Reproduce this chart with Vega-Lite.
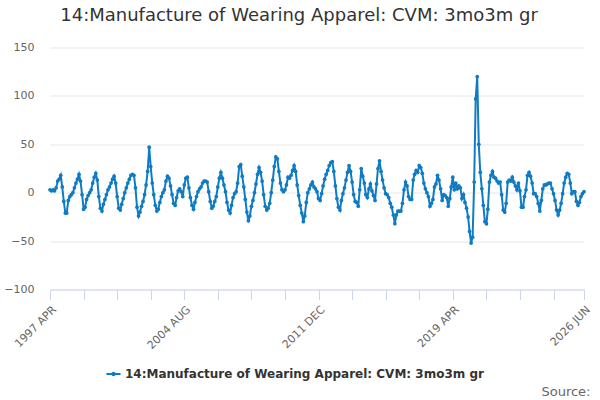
{
"$schema": "https://vega.github.io/schema/vega-lite/v6.json",
"width": 534, "height": 242,
"autosize": "none",
"padding": {"left": 50, "top": 47.5, "right": 16, "bottom": 110.5},
"background": "white",
"title": {"text": "14:Manufacture of Wearing Apparel: CVM: 3mo3m gr", "font": "DejaVu Sans", "fontSize": 18, "fontWeight": "normal", "color": "#333333", "anchor": "middle", "offset": 17, "dx": -18},
"data": {"values": [
{"date":"1997-04-01","value":3},{"date":"1997-05-01","value":2},{"date":"1997-06-01","value":3},{"date":"1997-07-01","value":2},{"date":"1997-08-01","value":5},{"date":"1997-09-01","value":12},{"date":"1997-10-01","value":14},{"date":"1997-11-01","value":18},{"date":"1997-12-01","value":6},
{"date":"1998-01-01","value":-9},{"date":"1998-02-01","value":-21},{"date":"1998-03-01","value":-21},{"date":"1998-04-01","value":-8},{"date":"1998-05-01","value":-4},{"date":"1998-06-01","value":-2},{"date":"1998-07-01","value":0},{"date":"1998-08-01","value":5},{"date":"1998-09-01","value":10},{"date":"1998-10-01","value":14},{"date":"1998-11-01","value":19},{"date":"1998-12-01","value":12},
{"date":"1999-01-01","value":-2},{"date":"1999-02-01","value":-17},{"date":"1999-03-01","value":-15},{"date":"1999-04-01","value":-7},{"date":"1999-05-01","value":-3},{"date":"1999-06-01","value":0},{"date":"1999-07-01","value":3},{"date":"1999-08-01","value":10},{"date":"1999-09-01","value":16},{"date":"1999-10-01","value":20},{"date":"1999-11-01","value":13},{"date":"1999-12-01","value":-4},
{"date":"2000-01-01","value":-16},{"date":"2000-02-01","value":-19},{"date":"2000-03-01","value":-12},{"date":"2000-04-01","value":-7},{"date":"2000-05-01","value":-2},{"date":"2000-06-01","value":3},{"date":"2000-07-01","value":6},{"date":"2000-08-01","value":10},{"date":"2000-09-01","value":14},{"date":"2000-10-01","value":17},{"date":"2000-11-01","value":10},{"date":"2000-12-01","value":-4},
{"date":"2001-01-01","value":-16},{"date":"2001-02-01","value":-18},{"date":"2001-03-01","value":-12},{"date":"2001-04-01","value":-6},{"date":"2001-05-01","value":0},{"date":"2001-06-01","value":5},{"date":"2001-07-01","value":10},{"date":"2001-08-01","value":14},{"date":"2001-09-01","value":18},{"date":"2001-10-01","value":19},{"date":"2001-11-01","value":18},{"date":"2001-12-01","value":5},
{"date":"2002-01-01","value":-15},{"date":"2002-02-01","value":-24},{"date":"2002-03-01","value":-20},{"date":"2002-04-01","value":-14},{"date":"2002-05-01","value":-9},{"date":"2002-06-01","value":-2},{"date":"2002-07-01","value":8},{"date":"2002-08-01","value":22},{"date":"2002-09-01","value":47},{"date":"2002-10-01","value":27},{"date":"2002-11-01","value":10},{"date":"2002-12-01","value":-2},
{"date":"2003-01-01","value":-13},{"date":"2003-02-01","value":-19},{"date":"2003-03-01","value":-17},{"date":"2003-04-01","value":-10},{"date":"2003-05-01","value":-4},{"date":"2003-06-01","value":0},{"date":"2003-07-01","value":3},{"date":"2003-08-01","value":12},{"date":"2003-09-01","value":17},{"date":"2003-10-01","value":15},{"date":"2003-11-01","value":7},{"date":"2003-12-01","value":-2},
{"date":"2004-01-01","value":-11},{"date":"2004-02-01","value":-13},{"date":"2004-03-01","value":-5},{"date":"2004-04-01","value":2},{"date":"2004-05-01","value":4},{"date":"2004-06-01","value":1},{"date":"2004-07-01","value":-4},{"date":"2004-08-01","value":8},{"date":"2004-09-01","value":15},{"date":"2004-10-01","value":16},{"date":"2004-11-01","value":5},{"date":"2004-12-01","value":-5},
{"date":"2005-01-01","value":-13},{"date":"2005-02-01","value":-17},{"date":"2005-03-01","value":-10},{"date":"2005-04-01","value":-4},{"date":"2005-05-01","value":1},{"date":"2005-06-01","value":4},{"date":"2005-07-01","value":6},{"date":"2005-08-01","value":10},{"date":"2005-09-01","value":12},{"date":"2005-10-01","value":12},{"date":"2005-11-01","value":11},{"date":"2005-12-01","value":1},
{"date":"2006-01-01","value":-9},{"date":"2006-02-01","value":-16},{"date":"2006-03-01","value":-14},{"date":"2006-04-01","value":-9},{"date":"2006-05-01","value":-4},{"date":"2006-06-01","value":6},{"date":"2006-07-01","value":15},{"date":"2006-08-01","value":21},{"date":"2006-09-01","value":15},{"date":"2006-10-01","value":8},{"date":"2006-11-01","value":1},{"date":"2006-12-01","value":-10},
{"date":"2007-01-01","value":-18},{"date":"2007-02-01","value":-21},{"date":"2007-03-01","value":-13},{"date":"2007-04-01","value":-5},{"date":"2007-05-01","value":-1},{"date":"2007-06-01","value":1},{"date":"2007-07-01","value":10},{"date":"2007-08-01","value":27},{"date":"2007-09-01","value":29},{"date":"2007-10-01","value":17},{"date":"2007-11-01","value":6},{"date":"2007-12-01","value":-7},
{"date":"2008-01-01","value":-20},{"date":"2008-02-01","value":-29},{"date":"2008-03-01","value":-24},{"date":"2008-04-01","value":-14},{"date":"2008-05-01","value":-8},{"date":"2008-06-01","value":0},{"date":"2008-07-01","value":9},{"date":"2008-08-01","value":19},{"date":"2008-09-01","value":26},{"date":"2008-10-01","value":21},{"date":"2008-11-01","value":12},{"date":"2008-12-01","value":-2},
{"date":"2009-01-01","value":-14},{"date":"2009-02-01","value":-18},{"date":"2009-03-01","value":-16},{"date":"2009-04-01","value":-11},{"date":"2009-05-01","value":0},{"date":"2009-06-01","value":13},{"date":"2009-07-01","value":27},{"date":"2009-08-01","value":37},{"date":"2009-09-01","value":35},{"date":"2009-10-01","value":22},{"date":"2009-11-01","value":10},{"date":"2009-12-01","value":3},
{"date":"2010-01-01","value":1},{"date":"2010-02-01","value":3},{"date":"2010-03-01","value":8},{"date":"2010-04-01","value":16},{"date":"2010-05-01","value":15},{"date":"2010-06-01","value":18},{"date":"2010-07-01","value":23},{"date":"2010-08-01","value":28},{"date":"2010-09-01","value":22},{"date":"2010-10-01","value":8},{"date":"2010-11-01","value":-3},{"date":"2010-12-01","value":-13},
{"date":"2011-01-01","value":-21},{"date":"2011-02-01","value":-30},{"date":"2011-03-01","value":-24},{"date":"2011-04-01","value":-10},{"date":"2011-05-01","value":0},{"date":"2011-06-01","value":4},{"date":"2011-07-01","value":8},{"date":"2011-08-01","value":11},{"date":"2011-09-01","value":6},{"date":"2011-10-01","value":4},{"date":"2011-11-01","value":1},{"date":"2011-12-01","value":-6},
{"date":"2012-01-01","value":-8},{"date":"2012-02-01","value":-1},{"date":"2012-03-01","value":7},{"date":"2012-04-01","value":14},{"date":"2012-05-01","value":19},{"date":"2012-06-01","value":23},{"date":"2012-07-01","value":28},{"date":"2012-08-01","value":31},{"date":"2012-09-01","value":32},{"date":"2012-10-01","value":22},{"date":"2012-11-01","value":7},{"date":"2012-12-01","value":-6},
{"date":"2013-01-01","value":-15},{"date":"2013-02-01","value":-18},{"date":"2013-03-01","value":-8},{"date":"2013-04-01","value":-1},{"date":"2013-05-01","value":5},{"date":"2013-06-01","value":13},{"date":"2013-07-01","value":21},{"date":"2013-08-01","value":28},{"date":"2013-09-01","value":22},{"date":"2013-10-01","value":11},{"date":"2013-11-01","value":-2},{"date":"2013-12-01","value":-9},
{"date":"2014-01-01","value":-10},{"date":"2014-02-01","value":-14},{"date":"2014-03-01","value":3},{"date":"2014-04-01","value":25},{"date":"2014-05-01","value":17},{"date":"2014-06-01","value":10},{"date":"2014-07-01","value":-2},{"date":"2014-08-01","value":-5},{"date":"2014-09-01","value":4},{"date":"2014-10-01","value":9},{"date":"2014-11-01","value":2},{"date":"2014-12-01","value":-3},
{"date":"2015-01-01","value":-8},{"date":"2015-02-01","value":9},{"date":"2015-03-01","value":25},{"date":"2015-04-01","value":33},{"date":"2015-05-01","value":22},{"date":"2015-06-01","value":13},{"date":"2015-07-01","value":5},{"date":"2015-08-01","value":-1},{"date":"2015-09-01","value":-2},{"date":"2015-10-01","value":-5},{"date":"2015-11-01","value":-11},{"date":"2015-12-01","value":-15},
{"date":"2016-01-01","value":-23},{"date":"2016-02-01","value":-32},{"date":"2016-03-01","value":-23},{"date":"2016-04-01","value":-19},{"date":"2016-05-01","value":-19},{"date":"2016-06-01","value":-19},{"date":"2016-07-01","value":-11},{"date":"2016-08-01","value":3},{"date":"2016-09-01","value":11},{"date":"2016-10-01","value":7},{"date":"2016-11-01","value":-4},{"date":"2016-12-01","value":-7},
{"date":"2017-01-01","value":-7},{"date":"2017-02-01","value":13},{"date":"2017-03-01","value":19},{"date":"2017-04-01","value":23},{"date":"2017-05-01","value":21},{"date":"2017-06-01","value":28},{"date":"2017-07-01","value":26},{"date":"2017-08-01","value":20},{"date":"2017-09-01","value":10},{"date":"2017-10-01","value":4},{"date":"2017-11-01","value":0},{"date":"2017-12-01","value":-4},
{"date":"2018-01-01","value":-14},{"date":"2018-02-01","value":-11},{"date":"2018-03-01","value":-7},{"date":"2018-04-01","value":6},{"date":"2018-05-01","value":9},{"date":"2018-06-01","value":18},{"date":"2018-07-01","value":13},{"date":"2018-08-01","value":4},{"date":"2018-09-01","value":-8},{"date":"2018-10-01","value":-2},{"date":"2018-11-01","value":-3},{"date":"2018-12-01","value":-5},
{"date":"2019-01-01","value":-14},{"date":"2019-02-01","value":-6},{"date":"2019-03-01","value":6},{"date":"2019-04-01","value":16},{"date":"2019-05-01","value":3},{"date":"2019-06-01","value":10},{"date":"2019-07-01","value":4},{"date":"2019-08-01","value":7},{"date":"2019-09-01","value":5},{"date":"2019-10-01","value":-6},{"date":"2019-11-01","value":-2},{"date":"2019-12-01","value":-10},
{"date":"2020-01-01","value":-16},{"date":"2020-02-01","value":-25},{"date":"2020-03-01","value":-40},{"date":"2020-04-01","value":-52},{"date":"2020-05-01","value":-46},{"date":"2020-06-01","value":11},{"date":"2020-07-01","value":97},{"date":"2020-08-01","value":120},{"date":"2020-09-01","value":50},{"date":"2020-10-01","value":21},{"date":"2020-11-01","value":4},{"date":"2020-12-01","value":-13},
{"date":"2021-01-01","value":-30},{"date":"2021-02-01","value":-32},{"date":"2021-03-01","value":-17},{"date":"2021-04-01","value":11},{"date":"2021-05-01","value":18},{"date":"2021-06-01","value":22},{"date":"2021-07-01","value":16},{"date":"2021-08-01","value":15},{"date":"2021-09-01","value":12},{"date":"2021-10-01","value":10},{"date":"2021-11-01","value":11},{"date":"2021-12-01","value":-2},
{"date":"2022-01-01","value":-18},{"date":"2022-02-01","value":-20},{"date":"2022-03-01","value":-11},{"date":"2022-04-01","value":11},{"date":"2022-05-01","value":13},{"date":"2022-06-01","value":12},{"date":"2022-07-01","value":16},{"date":"2022-08-01","value":11},{"date":"2022-09-01","value":7},{"date":"2022-10-01","value":3},{"date":"2022-11-01","value":10},{"date":"2022-12-01","value":2},
{"date":"2023-01-01","value":-15},{"date":"2023-02-01","value":-15},{"date":"2023-03-01","value":-4},{"date":"2023-04-01","value":3},{"date":"2023-05-01","value":18},{"date":"2023-06-01","value":21},{"date":"2023-07-01","value":17},{"date":"2023-08-01","value":10},{"date":"2023-09-01","value":-1},{"date":"2023-10-01","value":-1},{"date":"2023-11-01","value":-4},{"date":"2023-12-01","value":-11},
{"date":"2024-01-01","value":-19},{"date":"2024-02-01","value":-8},{"date":"2024-03-01","value":4},{"date":"2024-04-01","value":8},{"date":"2024-05-01","value":8},{"date":"2024-06-01","value":9},{"date":"2024-07-01","value":10},{"date":"2024-08-01","value":10},{"date":"2024-09-01","value":4},{"date":"2024-10-01","value":-1},{"date":"2024-11-01","value":-8},{"date":"2024-12-01","value":-18},
{"date":"2025-01-01","value":-23},{"date":"2025-02-01","value":-18},{"date":"2025-03-01","value":-11},{"date":"2025-04-01","value":-1},{"date":"2025-05-01","value":10},{"date":"2025-06-01","value":16},{"date":"2025-07-01","value":20},{"date":"2025-08-01","value":19},{"date":"2025-09-01","value":10},{"date":"2025-10-01","value":-1},{"date":"2025-11-01","value":1},{"date":"2025-12-01","value":1},
{"date":"2026-01-01","value":-9},{"date":"2026-02-01","value":-13},{"date":"2026-03-01","value":-10},{"date":"2026-04-01","value":-4},{"date":"2026-05-01","value":-1},{"date":"2026-06-01","value":1}
]},
"mark": {"type": "line", "strokeWidth": 2, "point": {"filled": true, "size": 14}},
"encoding": {
  "x": {"field": "date", "type": "temporal",
    "scale": {"type": "utc", "domain": [{"year": 1997, "month": 4, "date": 1, "utc": true}, {"year": 2026, "month": 6, "date": 1, "utc": true}]},
    "axis": {
      "values": [
        {"year": 1997, "month": 4, "date": 1, "utc": true},
        {"year": 1999, "month": 2, "date": 1, "utc": true},
        {"year": 2000, "month": 12, "date": 1, "utc": true},
        {"year": 2002, "month": 10, "date": 1, "utc": true},
        {"year": 2004, "month": 8, "date": 1, "utc": true},
        {"year": 2006, "month": 6, "date": 1, "utc": true},
        {"year": 2008, "month": 4, "date": 1, "utc": true},
        {"year": 2010, "month": 2, "date": 1, "utc": true},
        {"year": 2011, "month": 12, "date": 1, "utc": true},
        {"year": 2013, "month": 10, "date": 1, "utc": true},
        {"year": 2015, "month": 8, "date": 1, "utc": true},
        {"year": 2017, "month": 6, "date": 1, "utc": true},
        {"year": 2019, "month": 4, "date": 1, "utc": true},
        {"year": 2021, "month": 2, "date": 1, "utc": true},
        {"year": 2022, "month": 12, "date": 1, "utc": true},
        {"year": 2024, "month": 10, "date": 1, "utc": true},
        {"year": 2026, "month": 6, "date": 1, "utc": true}
      ],
      "labelExpr": "indexof(['1997-04','2004-08','2011-12','2019-04','2026-06'], utcFormat(datum.value, '%Y-%m')) >= 0 ? upper(utcFormat(datum.value, '%Y %b')) : ''",
      "labelAngle": -45, "labelFontSize": 11, "labelColor": "#666666", "labelFont": "DejaVu Sans", "labelPadding": 4,
      "labelOverlap": false, "labelBound": false, "labelFlush": false,
      "domainColor": "#ccd6eb", "tickColor": "#ccd6eb", "tickSize": 10, "grid": false,
      "title": "Source:", "titleFont": "DejaVu Sans", "titleFontSize": 13, "titleFontWeight": "normal", "titleColor": "#666666",
      "titleAnchor": "end", "titleAlign": "right", "titleX": 540, "titleY": 106, "titleBaseline": "alphabetic"
    }
  },
  "y": {"field": "value", "type": "quantitative",
    "scale": {"domain": [-100, 150], "nice": false, "zero": false},
    "axis": {"values": [-100, -50, 0, 50, 100, 150], "title": null, "domain": false, "ticks": false, "grid": true, "gridColor": "#e6e6e6",
      "labelColor": "#666666", "labelFontSize": 11, "labelFont": "DejaVu Sans", "labelPadding": 16}
  },
  "color": {"datum": "14:Manufacture of Wearing Apparel: CVM: 3mo3m gr",
    "scale": {"range": ["#0f7bc4"]},
    "legend": {"title": null, "orient": "none", "legendX": 56, "legendY": 319, "direction": "horizontal",
      "labelFont": "DejaVu Sans", "labelFontSize": 12, "labelFontWeight": "bold", "labelColor": "#333333", "labelLimit": 600,
      "symbolType": "M-1,-0.13H1V0.13H-1Z M-0.32,0A0.32,0.32,0,1,1,0.32,0A0.32,0.32,0,1,1,-0.32,0Z",
      "symbolSize": 200, "symbolFillColor": "#0f7bc4", "symbolStrokeWidth": 0, "symbolOffset": 0}
  }
},
"config": {"view": {"stroke": null}, "font": "DejaVu Sans"}
}
